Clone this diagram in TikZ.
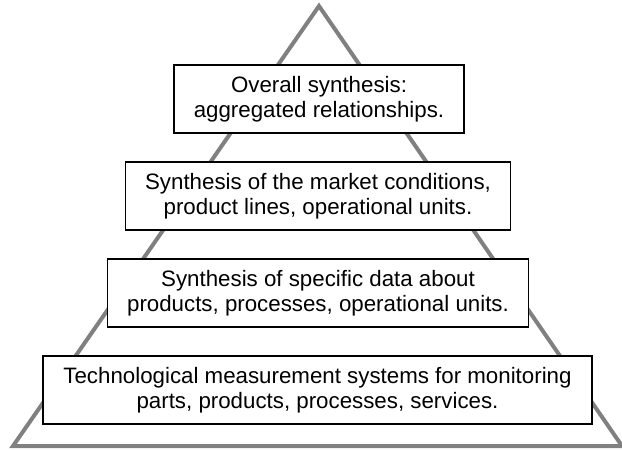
\documentclass[tikz,border=0pt]{standalone}
\usepackage{fontspec}
\setmainfont{Liberation Sans}
\tikzset{
  levelbox/.style={draw=black, line width=1.3pt, fill=white, align=center,
    inner sep=0pt, minimum height=68pt,
    font=\fontsize{22.3}{25}\selectfont},
  pyr/.style={draw=black!50, line width=4pt, line join=miter}
}
\begin{document}
\begin{tikzpicture}[x=1pt,y=-1pt]
\useasboundingbox (0,0) rectangle (622,450);
\coordinate (apex) at (319,6);
\coordinate (bl) at (13,446);
\coordinate (br) at (622,446);
\draw[pyr] (apex) -- (bl) -- (br) -- cycle;
\node[levelbox, minimum width=290pt] (b1) at (319,99) {Overall synthesis:\\aggregated relationships.};
\node[levelbox, minimum width=385pt] (b2) at (318,196) {Synthesis of the market conditions,\\product lines, operational units.};
\node[levelbox, minimum width=421pt] (b3) at (318,293) {Synthesis of specific data about\\products, processes, operational units.};
\node[levelbox, minimum width=549pt] (b4) at (317.5,390) {Technological measurement systems for monitoring\\parts, products, processes, services.};
\end{tikzpicture}
\end{document}
